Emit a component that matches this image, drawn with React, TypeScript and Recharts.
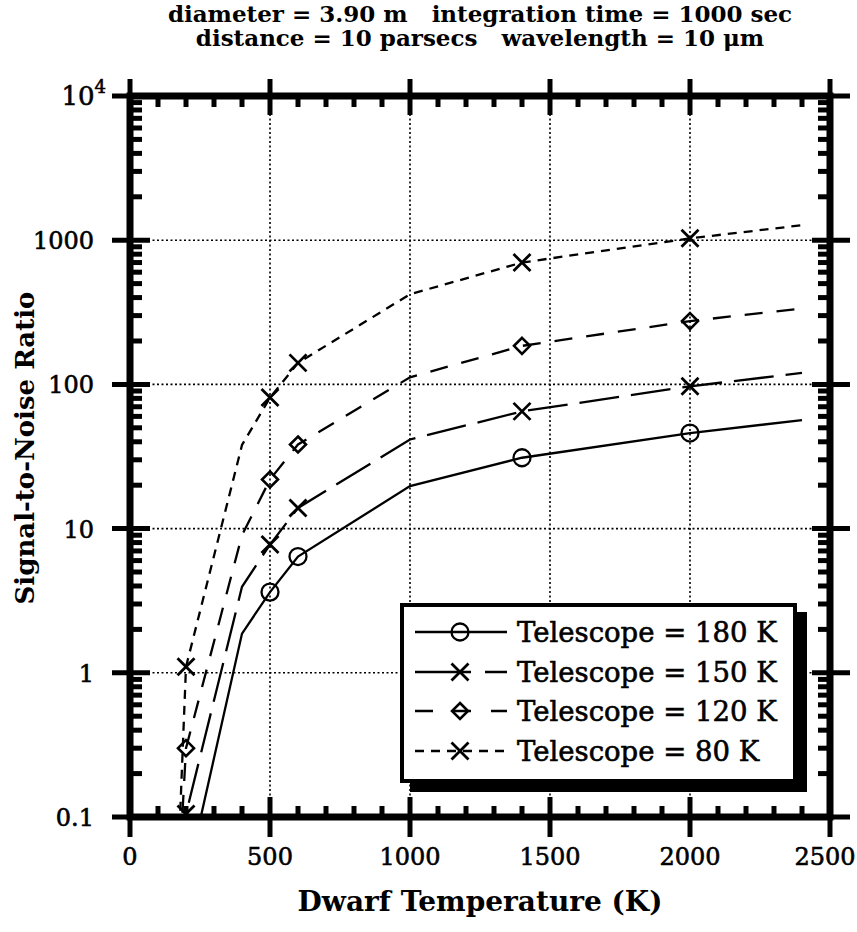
import React from "react";
import { LineChart, Line, XAxis, YAxis, CartesianGrid, ReferenceArea } from "recharts";

document.body.style.margin = "0";

// dwarf temperature (K) at which the curves were computed
const temps = [150, 200, 400, 500, 600, 1000, 1400, 2000, 2400];
// signal-to-noise ratio for each telescope temperature
const snr180 = [0.001, 0.035, 1.87, 3.63, 6.4, 19.7, 31, 46, 56.5];
const snr150 = [0.002, 0.105, 3.95, 7.75, 13.9, 41.5, 65, 97, 120];
const snr120 = [0.005, 0.3, 9, 21.9, 38.3, 112, 185, 275, 336];
const snr80 = [0.004, 1.1, 38, 81, 141, 422, 700, 1030, 1270];
// temperatures that carry a symbol
const markedTemps = [200, 500, 600, 1400, 2000];

const xMajor = [0, 500, 1000, 1500, 2000, 2500];
const yMajor = [0.1, 1, 10, 100, 1000, 10000];
const yMajorLabels = ["0.1", "1", "10", "100", "1000", "10^4"];

const xTicks: number[] = [];
for (let t = 0; t <= 2500; t += 100) xTicks.push(t);
const yTicks: number[] = [];
for (const d of yMajor) {
  yTicks.push(d);
  if (d < 10000) for (let m = 2; m <= 9; m++) yTicks.push(+(d * m).toPrecision(3));
}

const data = temps.map((t, i) => ({
  temp: t,
  t180: snr180[i],
  t150: snr150[i],
  t120: snr120[i],
  t80: snr80[i],
}));

const series = [
  { key: "t180", name: "Telescope = 180 K", dash: undefined, legendDash: undefined, marker: "circle" },
  { key: "t150", name: "Telescope = 150 K", dash: "40 12", legendDash: "56 14 30", marker: "cross" },
  { key: "t120", name: "Telescope = 120 K", dash: "18 14", legendDash: "18 20 18 20 18", marker: "diamond" },
  { key: "t80", name: "Telescope = 80 K", dash: "9 7", legendDash: "9 7", marker: "cross" },
];

const FONT = "DejaVu Serif";
const W = 857;
const H = 932;

function Marker({ kind, cx, cy }: { kind: string; cx: number; cy: number }) {
  if (kind === "circle")
    return <circle cx={cx} cy={cy} r={8.5} fill="none" stroke="#000" strokeWidth={2.3} />;
  if (kind === "diamond")
    return (
      <path
        d={`M${cx},${cy - 8}L${cx + 8},${cy}L${cx},${cy + 8}L${cx - 8},${cy}Z`}
        fill="none"
        stroke="#000"
        strokeWidth={2.6}
      />
    );
  const s = 8.5;
  return (
    <path
      d={`M${cx - s},${cy - s}L${cx + s},${cy + s}M${cx - s},${cy + s}L${cx + s},${cy - s}`}
      stroke="#000"
      strokeWidth={2.8}
    />
  );
}

const isMajorY = (v: number) => Math.abs(Math.log10(v) - Math.round(Math.log10(v))) < 1e-6;

const labelStyle = { fontFamily: FONT, fontSize: 24, fill: "#000", stroke: "#000", strokeWidth: 0.6 };

function BottomTick(props: any) {
  const { x, y, payload } = props;
  const v = payload.value;
  if (!xMajor.includes(v))
    return <line x1={x} x2={x} y1={y} y2={y - 11} stroke="#000" strokeWidth={5} />;
  return (
    <g>
      <line x1={x} x2={x} y1={y - 20} y2={y + 20} stroke="#000" strokeWidth={5} />
      <text x={v === 2500 ? x - 5 : x} y={y + 48} textAnchor="middle" {...labelStyle}>
        {v}
      </text>
    </g>
  );
}

function TopTick(props: any) {
  const { x, y, payload } = props;
  if (!xMajor.includes(payload.value))
    return <line x1={x} x2={x} y1={y} y2={y + 11} stroke="#000" strokeWidth={5} />;
  return <line x1={x} x2={x} y1={y - 17} y2={y + 19} stroke="#000" strokeWidth={5} />;
}

function LeftTick(props: any) {
  const { x, y, payload } = props;
  const v = payload.value;
  if (!isMajorY(v))
    return <line x1={x} x2={x + 12} y1={y} y2={y} stroke="#000" strokeWidth={5} />;
  const label = yMajorLabels[yMajor.findIndex((m) => Math.abs(m - v) < 1e-9)];
  return (
    <g>
      <line x1={x - 18} x2={x + 20} y1={y} y2={y} stroke="#000" strokeWidth={5} />
      {label === "10^4" ? (
        <text x={x - 24} y={y + 9} textAnchor="end" {...labelStyle} fontSize={26}>
          <tspan>10</tspan>
          <tspan dy={-12} fontSize={18}>4</tspan>
        </text>
      ) : (
        <text x={x - 36} y={y + 9} textAnchor="end" {...labelStyle}>
          {label}
        </text>
      )}
    </g>
  );
}

function RightTick(props: any) {
  const { x, y, payload } = props;
  if (!isMajorY(payload.value))
    return <line x1={x} x2={x - 12} y1={y} y2={y} stroke="#000" strokeWidth={5} />;
  return <line x1={x - 18} x2={x + 20} y1={y} y2={y} stroke="#000" strokeWidth={5} />;
}

function LegendBox() {
  return (
    <div
      style={{
        position: "absolute",
        left: 400,
        top: 603,
        width: 389,
        height: 172,
        border: "4px solid #000",
        background: "#fff",
        boxShadow: "10px 9px 0 #000",
        boxSizing: "content-box",
      }}
    >
      {series.map((s, i) => (
        <div
          key={s.key}
          style={{ position: "absolute", left: 9, top: 7 + i * 39.5, height: 36, display: "flex", alignItems: "center" }}
        >
          <svg width={96} height={36}>
            <line x1={2} x2={94} y1={18} y2={18} stroke="#000" strokeWidth={2.3} strokeDasharray={s.legendDash} />
            <Marker kind={s.marker} cx={47} cy={18} />
          </svg>
          <span
            style={{
              fontFamily: FONT,
              fontSize: 27.5,
              marginLeft: 8,
              lineHeight: "36px",
              whiteSpace: "nowrap",
              WebkitTextStroke: "0.6px #000",
            }}
          >
            {s.name}
          </span>
        </div>
      ))}
    </div>
  );
}

export default function App() {
  return (
    <div style={{ position: "relative", width: W, height: H, background: "#fff", overflow: "hidden" }}>
      <div
        style={{
          position: "absolute",
          left: 130,
          width: 700,
          top: 2,
          textAlign: "center",
          fontFamily: FONT,
          fontWeight: "bold",
          fontSize: 23,
          lineHeight: "24px",
          whiteSpace: "pre",
        }}
      >
        {"diameter = 3.90 m   integration time = 1000 sec\ndistance = 10 parsecs   wavelength = 10 \u03bcm"}
      </div>
      <LineChart width={W} height={H} data={data} margin={{ top: 95, right: 26, bottom: 114, left: 129 }}>
        <CartesianGrid
          stroke="#000"
          strokeWidth={1.6}
          strokeDasharray="2 2.5"
          verticalValues={[500, 1000, 1500, 2000]}
          horizontalValues={[1, 10, 100, 1000]}
        />
        <XAxis
          dataKey="temp"
          type="number"
          domain={[0, 2500]}
          ticks={xTicks}
          interval={0}
          allowDataOverflow
          height={1}
          axisLine={false}
          tickLine={false}
          tickSize={0}
          tickMargin={0}
          tick={<BottomTick />}
        />
        <XAxis
          xAxisId="top"
          orientation="top"
          dataKey="temp"
          type="number"
          domain={[0, 2500]}
          ticks={xTicks}
          interval={0}
          allowDataOverflow
          height={1}
          axisLine={false}
          tickLine={false}
          tickSize={0}
          tickMargin={0}
          tick={<TopTick />}
        />
        <YAxis
          scale="log"
          type="number"
          domain={[0.1, 10000]}
          ticks={yTicks}
          interval={0}
          allowDataOverflow
          width={1}
          axisLine={false}
          tickLine={false}
          tickSize={0}
          tickMargin={0}
          tick={<LeftTick />}
        />
        <YAxis
          yAxisId="right"
          orientation="right"
          scale="log"
          type="number"
          domain={[0.1, 10000]}
          ticks={yTicks}
          interval={0}
          allowDataOverflow
          width={1}
          axisLine={false}
          tickLine={false}
          tickSize={0}
          tickMargin={0}
          tick={<RightTick />}
        />
        {series.map((s) => (
          <Line
            key={s.key}
            dataKey={s.key}
            type="linear"
            stroke="#000"
            strokeWidth={2.3}
            strokeDasharray={s.dash}
            isAnimationActive={false}
            activeDot={false}
            dot={(p: any) =>
              markedTemps.includes(p.payload.temp) ? (
                <Marker key={`${s.key}-${p.index}`} kind={s.marker} cx={p.cx} cy={p.cy} />
              ) : (
                <g key={`${s.key}-${p.index}`} />
              )
            }
          />
        ))}
        <ReferenceArea x1={0} x2={2500} y1={0.1} y2={10000} fill="none" stroke="#000" strokeWidth={7} ifOverflow="visible" />
      </LineChart>
      <LegendBox />
      <div
        style={{
          position: "absolute",
          left: 25,
          top: 448,
          transform: "translate(-50%, -50%) rotate(-90deg)",
          fontFamily: FONT,
          fontWeight: "bold",
          fontSize: 26,
          whiteSpace: "nowrap",
        }}
      >
        Signal-to-Noise Ratio
      </div>
      <div
        style={{
          position: "absolute",
          left: 130,
          width: 700,
          top: 885,
          textAlign: "center",
          fontFamily: FONT,
          fontWeight: "bold",
          fontSize: 28,
          whiteSpace: "nowrap",
        }}
      >
        Dwarf Temperature (K)
      </div>
    </div>
  );
}
